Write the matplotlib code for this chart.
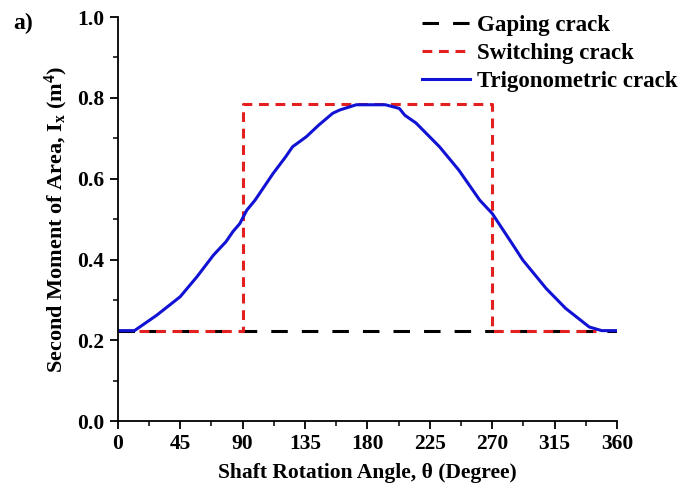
import matplotlib
matplotlib.use('Agg')
import matplotlib.pyplot as plt
from matplotlib.ticker import MultipleLocator

plt.rcParams['font.family'] = 'Liberation Serif'
plt.rcParams['font.weight'] = 'bold'
plt.rcParams['mathtext.fontset'] = 'custom'
plt.rcParams['mathtext.rm'] = 'Liberation Serif:bold'
plt.rcParams['mathtext.it'] = 'Liberation Serif:bold:italic'
plt.rcParams['mathtext.bf'] = 'Liberation Serif:bold'

# gaping crack (constant)
gap_x = [0, 360]
gap_y = [0.224, 0.224]

# switching crack (step)
sw_x = [15, 90, 90, 270, 270, 345]
sw_y = [0.224, 0.224, 0.785, 0.785, 0.224, 0.224]

# trigonometric crack
tr_x = [0, 12, 28, 45, 57, 69, 78, 83, 88, 93, 99, 112, 121, 126, 136, 145,
        155, 160, 172, 193, 203, 207, 215, 232, 246, 261, 270, 285, 292, 309,
        323, 340, 349, 360]
tr_y = [0.224, 0.224, 0.262, 0.308, 0.357, 0.411, 0.444, 0.469, 0.489, 0.522,
        0.547, 0.613, 0.654, 0.679, 0.704, 0.733, 0.762, 0.770, 0.783, 0.783,
        0.774, 0.757, 0.738, 0.679, 0.621, 0.547, 0.514, 0.436, 0.399, 0.328,
        0.279, 0.233, 0.224, 0.224]

fig = plt.figure(figsize=(6.81, 4.88), dpi=100)
ax = fig.add_axes([0.173, 0.137, 0.733, 0.828])

ax.plot(gap_x, gap_y, color='black', lw=2.2, dashes=(5.4, 4.6), label='Gaping crack')
ax.plot(sw_x, sw_y, color='#e3201f', lw=2.2, dashes=(3.2, 2.2), label='Switching crack')
ax.plot(tr_x, tr_y, color='#1212d4', lw=2.2, label='Trigonometric crack')

ax.set_xlim(0, 360)
ax.set_ylim(0, 1.0)
ax.xaxis.set_major_locator(MultipleLocator(45))
ax.xaxis.set_minor_locator(MultipleLocator(22.5))
ax.yaxis.set_major_locator(MultipleLocator(0.2))
ax.yaxis.set_minor_locator(MultipleLocator(0.1))
ax.yaxis.set_major_formatter(plt.FormatStrFormatter('%.1f'))

for s in ['top', 'right']:
  ax.spines[s].set_visible(False)
for s in ['left', 'bottom']:
  ax.spines[s].set_linewidth(1.3)
ax.tick_params(which='major', direction='out', length=6, width=1.3, labelsize=15.5)
ax.tick_params(which='minor', direction='out', length=3.5, width=1.1)

ax.set_xlabel('Shaft Rotation Angle, \u03b8 (Degree)', fontsize=15.5, fontweight='bold', labelpad=6)
ax.set_ylabel('Second Moment of Area, I$_{\\mathrm{x}}$ (m$^{\\mathrm{4}}$)', fontsize=16,
              fontweight='bold', labelpad=5)

leg = ax.legend(loc='upper right', bbox_to_anchor=(1.14, 1.028), frameon=False, fontsize=16.5,
                handlelength=2.1, handletextpad=0.3, labelspacing=0.31, borderaxespad=0)
for t in leg.get_texts():
  t.set_fontweight('bold')

fig.text(0.02, 0.94, 'a)', fontsize=17, fontweight='bold')

fig.savefig('out.png', dpi=100)
